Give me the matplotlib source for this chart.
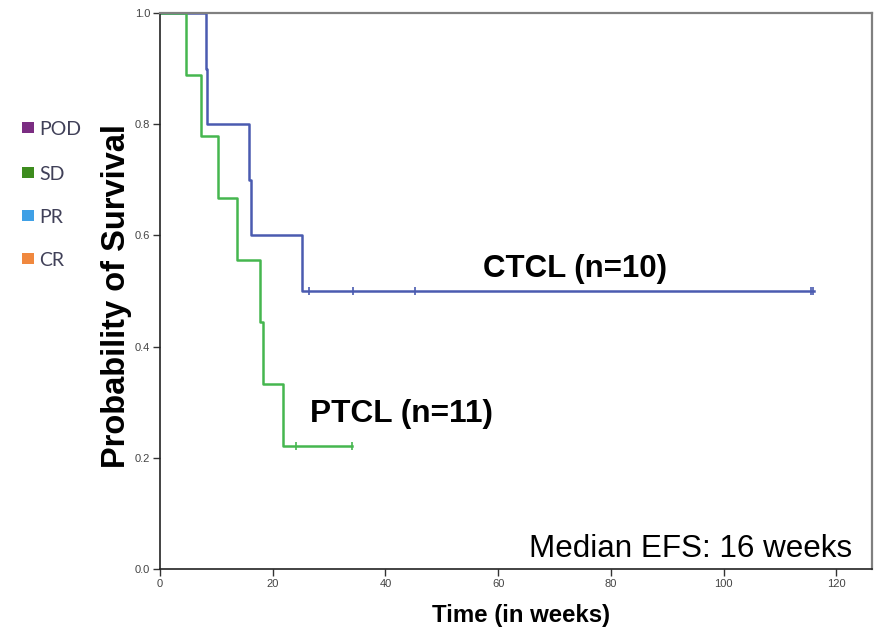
import matplotlib
matplotlib.use('Agg')
import matplotlib.pyplot as plt
from matplotlib.patches import Rectangle

plt.rcParams['font.family'] = ['Liberation Sans', 'DejaVu Sans']

# Kaplan-Meier curves (time in weeks, survival probability)
ctcl_times = [0, 8.2, 8.4, 15.8, 16.1, 25.2, 116.0]
ctcl_surv = [1.0, 0.9, 0.8, 0.7, 0.6, 0.5, 0.5]
ctcl_censor = [26.4, 34.2, 45.2, 115.4, 115.8]

ptcl_times = [0, 4.7, 7.3, 10.2, 13.7, 17.7, 18.2, 21.9, 34.0]
ptcl_surv = [1.0, 0.889, 0.778, 0.667, 0.556, 0.444, 0.333, 0.222, 0.222]
ptcl_censor = [24.1, 34.0]

legend_labels = ['POD', 'SD', 'PR', 'CR']
legend_colors = ['#7b2d82', '#3d8c1e', '#3fa0e6', '#f0883e']

blue = '#4a5bb0'
green = '#45b64f'

fig = plt.figure(figsize=(8.75, 6.31), dpi=100)
ax = fig.add_axes([160 / 875, 62 / 631, 712 / 875, 556 / 631])

ax.step(ctcl_times, ctcl_surv, where='post', color=blue, lw=1.8)
ax.plot(ctcl_censor, [0.5] * len(ctcl_censor), ls='none', marker='|',
        color=blue, ms=6, mew=1.2)
ax.step(ptcl_times, ptcl_surv, where='post', color=green, lw=1.8)
ax.plot(ptcl_censor, [0.222] * len(ptcl_censor), ls='none', marker='|',
        color=green, ms=6, mew=1.2)

ax.set_xlim(0, 126.3)
ax.set_ylim(0, 1.0)
ax.set_xticks([0, 20, 40, 60, 80, 100, 120])
ax.set_yticks([0.0, 0.2, 0.4, 0.6, 0.8, 1.0])
ax.set_yticklabels(['0.0', '0.2', '0.4', '0.6', '0.8', '1.0'])
ax.tick_params(direction='out', length=5, width=1, colors='#333333',
               labelsize=8, labelcolor='#444444', pad=2)

for side in ['left', 'bottom']:
    ax.spines[side].set_color('#222222')
    ax.spines[side].set_linewidth(1.2)
for side in ['top', 'right']:
    ax.spines[side].set_color('#808080')
    ax.spines[side].set_linewidth(1.6)

ax.text(73.6, 0.525, 'CTCL (n=10)', fontsize=22.5, fontweight='bold',
        ha='center', va='baseline')
ax.text(26.6, 0.264, 'PTCL (n=11)', fontsize=22.8, fontweight='bold',
        ha='left', va='baseline')
ax.text(122.7, 0.0216, 'Median EFS: 16 weeks', fontsize=22.6,
        ha='right', va='baseline')

fig.text(521 / 875, 9 / 631, 'Time (in weeks)', fontsize=17.3,
         fontweight='bold', ha='center', va='baseline')
fig.text(117 / 875, (631 - 296) / 631, 'Probability of Survival',
         fontsize=23.5, fontweight='bold', rotation=90,
         ha='center', va='center')

# side legend (response categories)
legend_y = [126.5, 172, 215, 258]
for lab, col, py in zip(legend_labels, legend_colors, legend_y):
    fig.add_artist(Rectangle((22 / 875, (631 - py - 6) / 631), 12 / 875,
                             11 / 631, transform=fig.transFigure,
                             facecolor=col, edgecolor='none'))
    fig.text(39 / 875, (631 - py - 3) / 631, lab, fontsize=14,
             family=['Lato', 'DejaVu Sans'], color='#404058',
             ha='left', va='center')

fig.savefig('out.png', dpi=100)
